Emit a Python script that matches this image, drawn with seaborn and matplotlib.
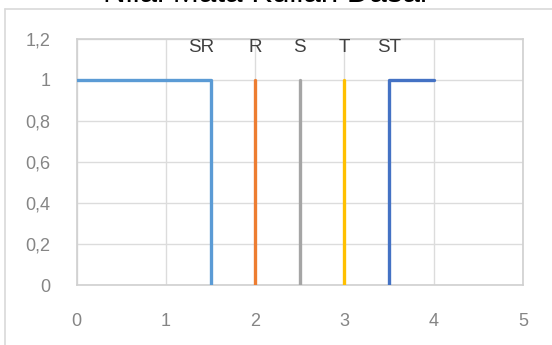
import matplotlib
matplotlib.use("Agg")
import matplotlib.pyplot as plt
from matplotlib.lines import Line2D
from matplotlib.ticker import FuncFormatter
import pandas as pd
import seaborn as sns

# Membership lines for each grade category
categories = ["SR", "R", "S", "T", "ST"]
sr_x = [0, 1.5, 1.5]
sr_y = [1, 1, 0]
r_x = [2, 2]
r_y = [0, 1]
s_x = [2.5, 2.5]
s_y = [0, 1]
t_x = [3, 3]
t_y = [0, 1]
st_x = [3.5, 3.5, 4]
st_y = [0, 1, 1]

# Label positions above the lines
label_x = [1.4, 2, 2.5, 3, 3.5]
label_y = 1.155

x_ticks = [0, 1, 2, 3, 4, 5]
y_ticks = [0, 0.2, 0.4, 0.6, 0.8, 1.0, 1.2]

colors = ["#5B9BD5", "#ED7D31", "#A5A5A5", "#FFC000", "#4472C4"]

series = [(sr_x, sr_y), (r_x, r_y), (s_x, s_y), (t_x, t_y), (st_x, st_y)]
rows = []
for name, (xs, ys) in zip(categories, series):
    for i, (xv, yv) in enumerate(zip(xs, ys)):
        rows.append({"kategori": name, "order": i, "x": xv, "y": yv})
df = pd.DataFrame(rows)

sns.set_theme(style="whitegrid")
plt.rcParams["font.family"] = ["Liberation Sans", "DejaVu Sans"]

fig = plt.figure(figsize=(5.52, 3.45), dpi=100)
W, H = 552, 345
left, right, top, bottom = 76.7, 523, 38.5, 285
ax = fig.add_axes([left / W, 1 - bottom / H, (right - left) / W, (bottom - top) / H])

for name, col in zip(categories, colors):
    sub = df[df["kategori"] == name]
    sns.lineplot(data=sub, x="x", y="y", sort=False, estimator=None,
                 color=col, linewidth=2.4, ax=ax, zorder=3)

for name, lx in zip(categories, label_x):
    ax.text(lx, label_y, name, ha="center", va="center",
            fontsize=13.5, color="#404040", zorder=4)

ax.set_xlim(0, 5)
ax.set_ylim(0, 1.2)
ax.set_xticks(x_ticks)
ax.set_yticks(y_ticks)
fmt = FuncFormatter(lambda v, p: f"{v:g}".replace(".", ","))
ax.xaxis.set_major_formatter(fmt)
ax.yaxis.set_major_formatter(fmt)
ax.set_xlabel("")
ax.set_ylabel("")
ax.tick_params(axis="both", length=0, labelsize=13, labelcolor="#858585")
ax.tick_params(axis="x", pad=20)
ax.tick_params(axis="y", pad=19)
ax.grid(True, color="#dcdcdc", linewidth=1.0)
ax.set_facecolor("white")
for side, sp in ax.spines.items():
    sp.set_visible(True)
    sp.set_color("#d0d0d0")
    sp.set_linewidth(1.2)

# Outer chart frame, running past the right and bottom edges
frame_kw = dict(color="#d9d9d9", linewidth=1.2, transform=fig.transFigure)
fig.add_artist(Line2D([5.5 / W, 5.5 / W], [0, 1 - 8.5 / H], **frame_kw))
fig.add_artist(Line2D([5.5 / W, 1], [1 - 8.5 / H, 1 - 8.5 / H], **frame_kw))

fig.text(267 / W, 1 - 1.5 / H, "Nilai Mata Kuliah Dasar", ha="center",
         va="baseline", fontsize=22.5, color="#000000")

fig.savefig("out.png", dpi=100, facecolor="white")
